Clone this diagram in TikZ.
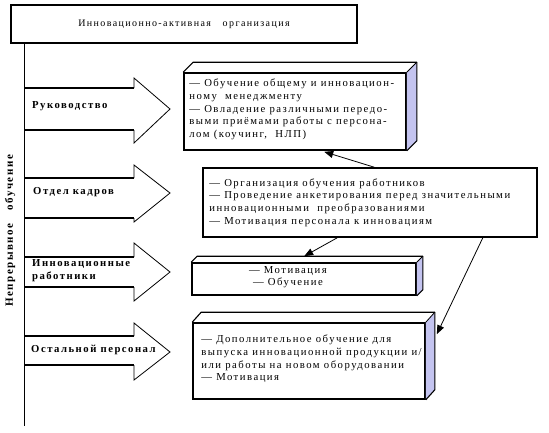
\documentclass[tikz,border=0pt]{standalone}
\usepackage{fontspec}
\setmainfont{Liberation Serif}[LetterSpace=14]
\usetikzlibrary{calc,arrows.meta}
\definecolor{sideface}{RGB}{196,196,240}
\tikzset{
  thickline/.style={line width=1.6pt},
  thinline/.style={line width=0.8pt},
  face/.style={draw, line width=1.6pt, fill=white, inner sep=0pt},
  boxtext/.style={font=\fontsize{10.7}{12.6}\selectfont, inner sep=0pt, align=left, anchor=west},
  lbl/.style={font=\fontsize{10.7}{13}\selectfont\bfseries, inner sep=0pt, align=left, anchor=west},
  conn/.style={thinline, -{Triangle[length=9pt,width=7pt]}},
}
\newcommand\bigarr[5]{%
  \draw[thickline] (24,#1) -- (134,#1);
  \draw[thickline] (24,#2) -- (134,#2);
  \draw[thinline, line join=miter] (134,#1) -- (134,#3) -- (170,#5) -- (134,#4) -- (134,#2);
}
\newcommand\deepbox[3]{% node, dx, dy
  \fill[sideface] (#1.north east) -- ++(#2,-#3) -- ($(#1.south east)+(#2,-#3)$) -- (#1.south east) -- cycle;
  \draw[line width=1.1pt, line join=round] (#1.north west) -- ++(#2,-#3) -- ($(#1.north east)+(#2,-#3)$) -- ($(#1.south east)+(#2,-#3)$) -- (#1.south east);
  \draw[thinline] (#1.north east) -- ++(#2,-#3);
}
\begin{document}
\begin{tikzpicture}[x=1pt,y=-1pt]
\useasboundingbox (0,0) rectangle (549,432);

% title
\node[face, minimum width=346pt, minimum height=38pt, font=\fontsize{10}{12}\selectfont] (title) at (184,24) {Инновационно-активная\ \ \ организация};

% spine
\coordinate (sBot) at (24,426);
\draw[thinline] (title.south -| sBot) -- (sBot);

% vertical label
\node[font=\fontsize{11}{12}\selectfont\bfseries, rotate=90, inner sep=0pt] (vlabel) at (10,231) {Непрерывное\ \ \ обучение};

% big arrows
\bigarr{88}{130}{78}{143}{109}
\bigarr{178}{218}{165}{222}{193}
\bigarr{257}{287}{243}{301}{272}
\bigarr{336}{365}{323}{380}{352}

\node[lbl] (l1) at (32,106) {Руководство};
\node[lbl] (l2) at (33,192) {Отдел кадров};
\node[lbl] (l3) at (32,271) {Инновационные\\работники};
\node[lbl] (l4) at (31,350) {Остальной персонал};

% box 1
\node[face, minimum width=222pt, minimum height=77pt] (b1) at (295,111.5) {};
\deepbox{b1}{10}{10}
\node[boxtext] (t1) at ($(b1.west)+(6,-2)$) {— Обучение общему и инновацион-\\ному\ \ менеджменту\\— Овладение различными передо-\\выми приёмами работы с персона-\\лом (коучинг,\ \ НЛП)};

% box 2
\node[face, minimum width=334pt, minimum height=69pt] (b2) at (370,202.5) {};
\node[boxtext] (t2) at ($(b2.west)+(7,0)$) {— Организация обучения работников\\— Проведение анкетирования перед значительными\\инновационными\ \ преобразованиями\\— Мотивация персонала к инновациям};

% box 3
\node[face, minimum width=224pt, minimum height=32pt] (b3) at (304,279) {};
\deepbox{b3}{6}{6}
\node[boxtext, anchor=center, align=center] (t3) at (288,277) {— Мотивация\\— Обучение};

% box 4
\node[face, minimum width=232pt, minimum height=76pt] (b4) at (309,361) {};
\deepbox{b4}{9}{10}
\node[boxtext] (t4) at ($(b4.west)+(9,-2)$) {— Дополнительное обучение для\\выпуска инновационной продукции и/\\или работы на новом оборудовании\\— Мотивация};

% connectors
\draw[conn] ($(b2.north west)+(172,0)$) -- ($(b1.south west)+(141,1)$);
\draw[conn] ($(b2.south west)+(135,0)$) -- ($(b3.north west)+(113,-6)$);
\draw[conn] ($(b2.south east)+(-55,0)$) -- ($(b4.north east)+(11,12)$);
\end{tikzpicture}
\end{document}
